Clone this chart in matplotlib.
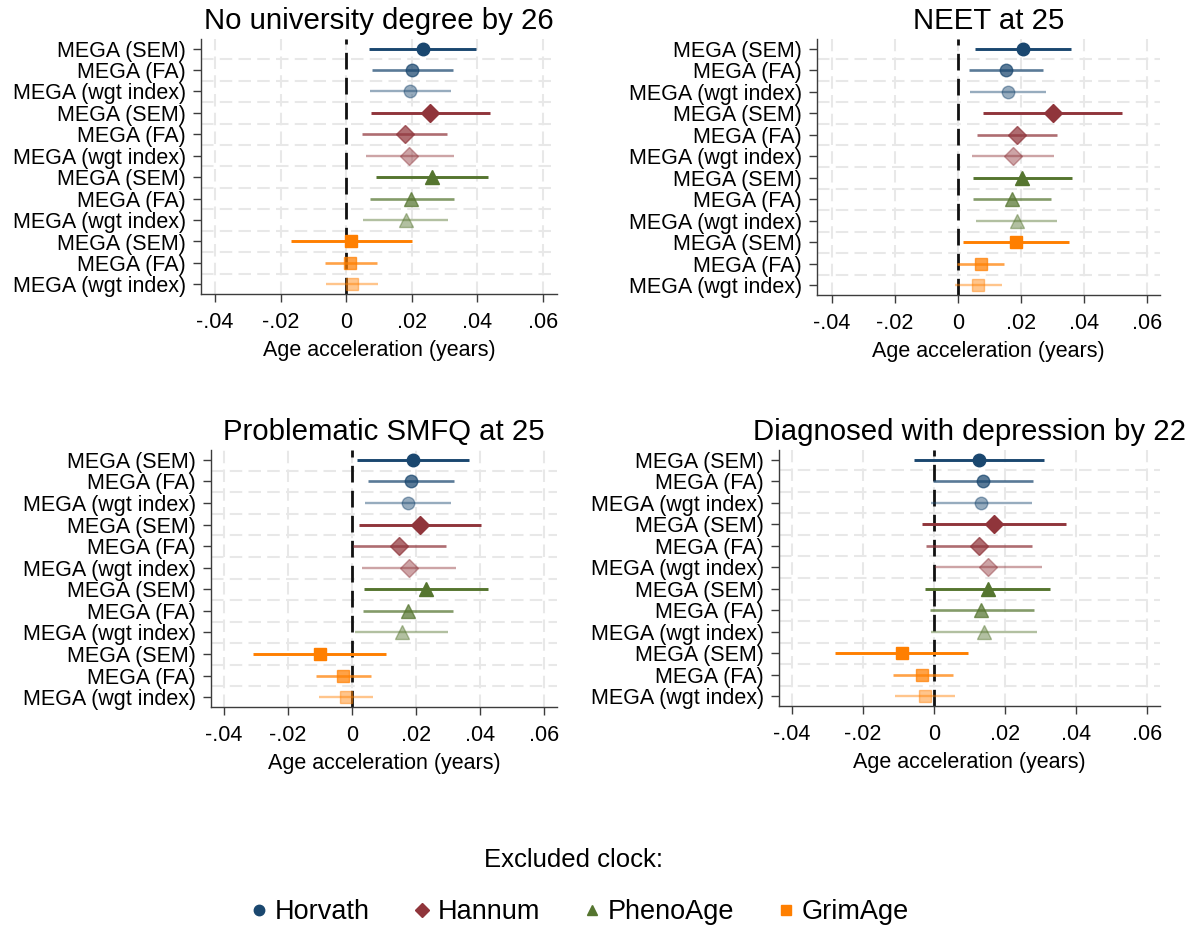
import numpy as np
import matplotlib.pyplot as plt
from matplotlib.lines import Line2D

plt.rcParams['font.family'] = ['Liberation Sans', 'DejaVu Sans']

# Данные: 4 исхода, по 12 строк (3 варианта MEGA x 4 исключенных часов)
titles = ['No university degree by 26', 'NEET at 25',
          'Problematic SMFQ at 25', 'Diagnosed with depression by 22']
row_labels = ['MEGA (SEM)', 'MEGA (FA)', 'MEGA (wgt index)'] * 4
clocks = ['Horvath', 'Hannum', 'PhenoAge', 'GrimAge']
clock_colors = ['#1a476f', '#90353b', '#55752f', '#ff7f00']
clock_markers = ['o', 'D', '^', 's']

est_univ = [0.0234, 0.0202, 0.0195, 0.0256, 0.0178, 0.0193,
            0.0262, 0.0198, 0.0181, 0.0015, 0.0013, 0.0017]
lo_univ = [0.0071, 0.0080, 0.0074, 0.0075, 0.0048, 0.0061,
           0.0090, 0.0072, 0.0050, -0.0169, -0.0064, -0.0061]
hi_univ = [0.0397, 0.0326, 0.0319, 0.0438, 0.0308, 0.0328,
           0.0432, 0.0328, 0.0312, 0.0200, 0.0093, 0.0097]

est_neet = [0.0205, 0.0152, 0.0158, 0.0300, 0.0187, 0.0173,
            0.0203, 0.0170, 0.0186, 0.0183, 0.0073, 0.0064]
lo_neet = [0.0053, 0.0034, 0.0039, 0.0079, 0.0059, 0.0045,
           0.0048, 0.0048, 0.0058, 0.0015, -0.0002, -0.0010]
hi_neet = [0.0358, 0.0269, 0.0278, 0.0521, 0.0314, 0.0303,
           0.0362, 0.0295, 0.0314, 0.0351, 0.0147, 0.0138]

est_smfq = [0.0190, 0.0183, 0.0174, 0.0211, 0.0146, 0.0178,
            0.0231, 0.0175, 0.0155, -0.0101, -0.0028, -0.0019]
lo_smfq = [0.0016, 0.0051, 0.0041, 0.0020, 0.0002, 0.0031,
           0.0036, 0.0034, 0.0010, -0.0309, -0.0114, -0.0105]
hi_smfq = [0.0364, 0.0318, 0.0308, 0.0401, 0.0292, 0.0324,
           0.0425, 0.0316, 0.0301, 0.0105, 0.0058, 0.0066]

est_depr = [0.0126, 0.0137, 0.0132, 0.0169, 0.0125, 0.0152,
            0.0151, 0.0132, 0.0140, -0.0092, -0.0033, -0.0025]
lo_depr = [-0.0056, -0.0004, -0.0008, -0.0033, -0.0024, 0.0003,
           -0.0025, -0.0013, -0.0009, -0.0279, -0.0116, -0.0109]
hi_depr = [0.0310, 0.0279, 0.0275, 0.0370, 0.0275, 0.0303,
           0.0327, 0.0281, 0.0290, 0.0095, 0.0054, 0.0060]

xticks = [-0.04, -0.02, 0, 0.02, 0.04, 0.06]
xtick_labels = ['-.04', '-.02', '0', '.02', '.04', '.06']

panels = [(est_univ, lo_univ, hi_univ), (est_neet, lo_neet, hi_neet),
          (est_smfq, lo_smfq, hi_smfq), (est_depr, lo_depr, hi_depr)]

# Положение осей (в пикселях фигуры) и пределы по x
W, H = 1202, 930
boxes = [(201, 557, 39, 294), (817, 1160, 39, 295),
         (211, 557, 450, 707), (779, 1160, 450, 706)]
xlims = [(-0.0443, 0.0643), (-0.0447, 0.0640),
         (-0.0441, 0.0640), (-0.0437, 0.0636)]

alphas = [1.0, 0.72, 0.45]
lws = [2.1, 1.9, 1.7]
msizes = {'o': 9, 'D': 9, '^': 9.5, 's': 9}

fig = plt.figure(figsize=(W / 100, H / 100), dpi=100)
grid_color = '#e8e8e8'
axis_color = '#3c3c3c'

for p, (est, lo, hi) in enumerate(panels):
    l, r, t, b = boxes[p]
    ax = fig.add_axes([l / W, 1 - b / H, (r - l) / W, (b - t) / H])
    n = len(est)
    y = np.arange(n)

    # сетка
    for xv in xticks:
        ax.axvline(xv, color=grid_color, lw=1.5, ls=(0, (6, 3)), zorder=0)
    for yv in np.arange(0.5, n - 1, 1.0):
        ax.axhline(yv, color=grid_color, lw=1.5, ls=(0, (6, 3)), zorder=0)

    # нулевая линия
    ax.axvline(0, color='#111111', lw=2.0, ls=(0, (6, 3)), zorder=1)

    for i in range(n):
        c = i // 3
        k = i % 3
        col = clock_colors[c]
        ax.hlines(y[i], lo[i], hi[i], color=col, alpha=alphas[k], lw=lws[k], zorder=2)
        ax.plot(est[i], y[i], marker=clock_markers[c], ms=msizes[clock_markers[c]],
                color=col, alpha=alphas[k], mec=col, mew=1.0, ls='none', zorder=3)

    ax.set_xlim(*xlims[p])
    ax.set_ylim(n - 0.55, -0.45)
    ax.set_yticks(y)
    ax.set_yticklabels(row_labels, fontsize=15.5)
    ax.set_xticks(xticks)
    ax.set_xticklabels(xtick_labels, fontsize=15.5)
    ax.set_xlabel('Age acceleration (years)', fontsize=15.5, labelpad=5)
    ax.set_title(titles[p], fontsize=21.2, pad=7)

    for s in ['top', 'right']:
        ax.spines[s].set_visible(False)
    for s in ['left', 'bottom']:
        ax.spines[s].set_color(axis_color)
        ax.spines[s].set_linewidth(1.0)
    ax.tick_params(axis='both', color=axis_color, length=6, width=1.0)
    ax.tick_params(axis='y', pad=5)
    ax.tick_params(axis='x', pad=7)

# Легенда
handles = [Line2D([], [], marker=m, color=c, ls='none', ms=7.5)
           for m, c in zip(clock_markers, clock_colors)]
fig.text(573 / W, 1 - 860 / H, 'Excluded clock:', ha='center', va='center', fontsize=18.5)
fig.legend(handles, clocks, loc='center', bbox_to_anchor=(580 / W, 1 - 912 / H),
           ncol=4, frameon=False, fontsize=19.5, handlelength=0.6, handletextpad=0.3,
           columnspacing=1.6)

fig.savefig('out.png', dpi=100)
